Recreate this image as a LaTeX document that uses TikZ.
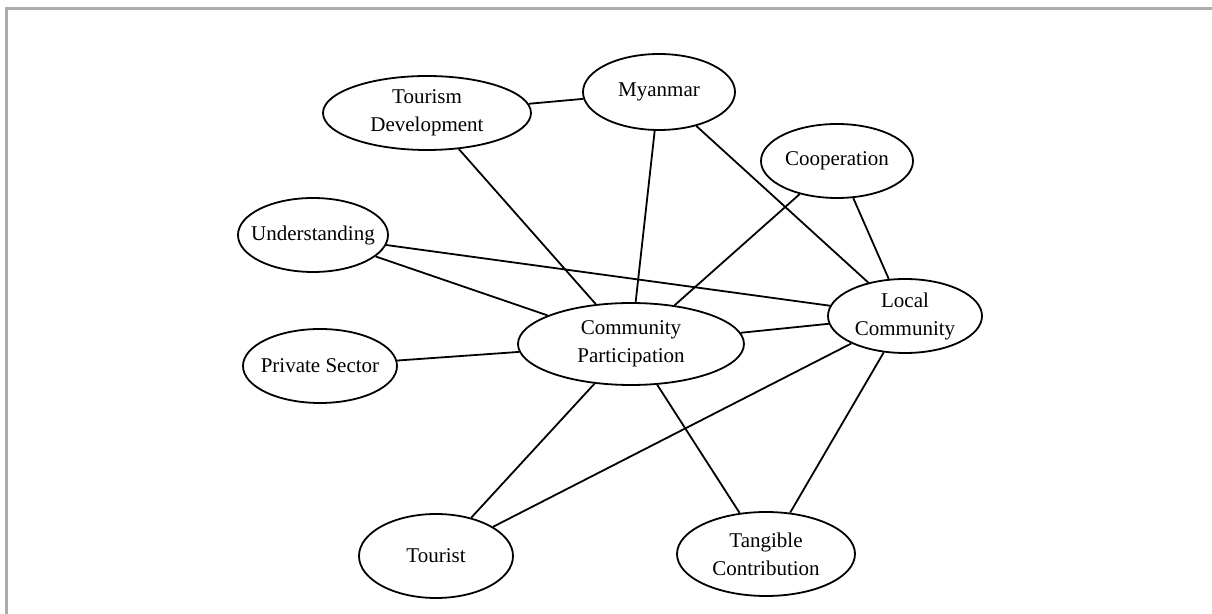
\documentclass[tikz,border=0pt]{standalone}
\usepackage{fontspec}
\setmainfont{Liberation Serif}
\usetikzlibrary{shapes.geometric}
\tikzset{
  concept/.style={ellipse, draw=black, line width=0.9pt, inner xsep=-5pt, inner ysep=-5pt, align=center,
    font=\fontsize{10.5}{14}\selectfont},
  link/.style={draw=black, line width=0.9pt},
  frameline/.style={draw=black!32, line width=1.3pt}
}
\begin{document}
\begin{tikzpicture}[x=0.5pt,y=-0.5pt]
\useasboundingbox (0,0) rectangle (1212,614);
\draw[frameline] (6.5,614) -- (6.5,8.5) -- (1212,8.5);

\node[concept, minimum width=104pt, minimum height=37pt] (td) at (427,113) {Tourism\\Development};
\node[concept, minimum width=76pt, minimum height=38pt] (my) at (659,92) {Myanmar};
\node[concept, minimum width=76pt, minimum height=37pt] (co) at (837,161) {Cooperation};
\node[concept, minimum width=75pt, minimum height=37pt] (un) at (313,235) {Understanding};
\node[concept, minimum width=77pt, minimum height=37pt] (lc) at (905,316) {Local\\Community};
\node[concept, minimum width=113pt, minimum height=41pt] (cp) at (631,344) {Community\\Participation};
\node[concept, minimum width=77pt, minimum height=37pt] (ps) at (320,366) {Private Sector};
\node[concept, minimum width=77pt, minimum height=42pt] (to) at (436,556) {Tourist};
\node[concept, minimum width=89pt, minimum height=42pt] (tc) at (766,554) {Tangible\\Contribution};

\path[link] (td) -- (my);
\path[link] (td) -- (cp);
\path[link] (my) -- (cp);
\path[link] (my) -- (lc);
\path[link] (co) -- (cp);
\path[link] (co) -- (lc);
\path[link] (un) -- (cp);
\path[link] (un) -- (lc);
\path[link] (ps) -- (cp);
\path[link] (cp) -- (lc);
\path[link] (cp) -- (to);
\path[link] (cp) -- (tc);
\path[link] (lc) -- (to);
\path[link] (lc) -- (tc);
\end{tikzpicture}
\end{document}
